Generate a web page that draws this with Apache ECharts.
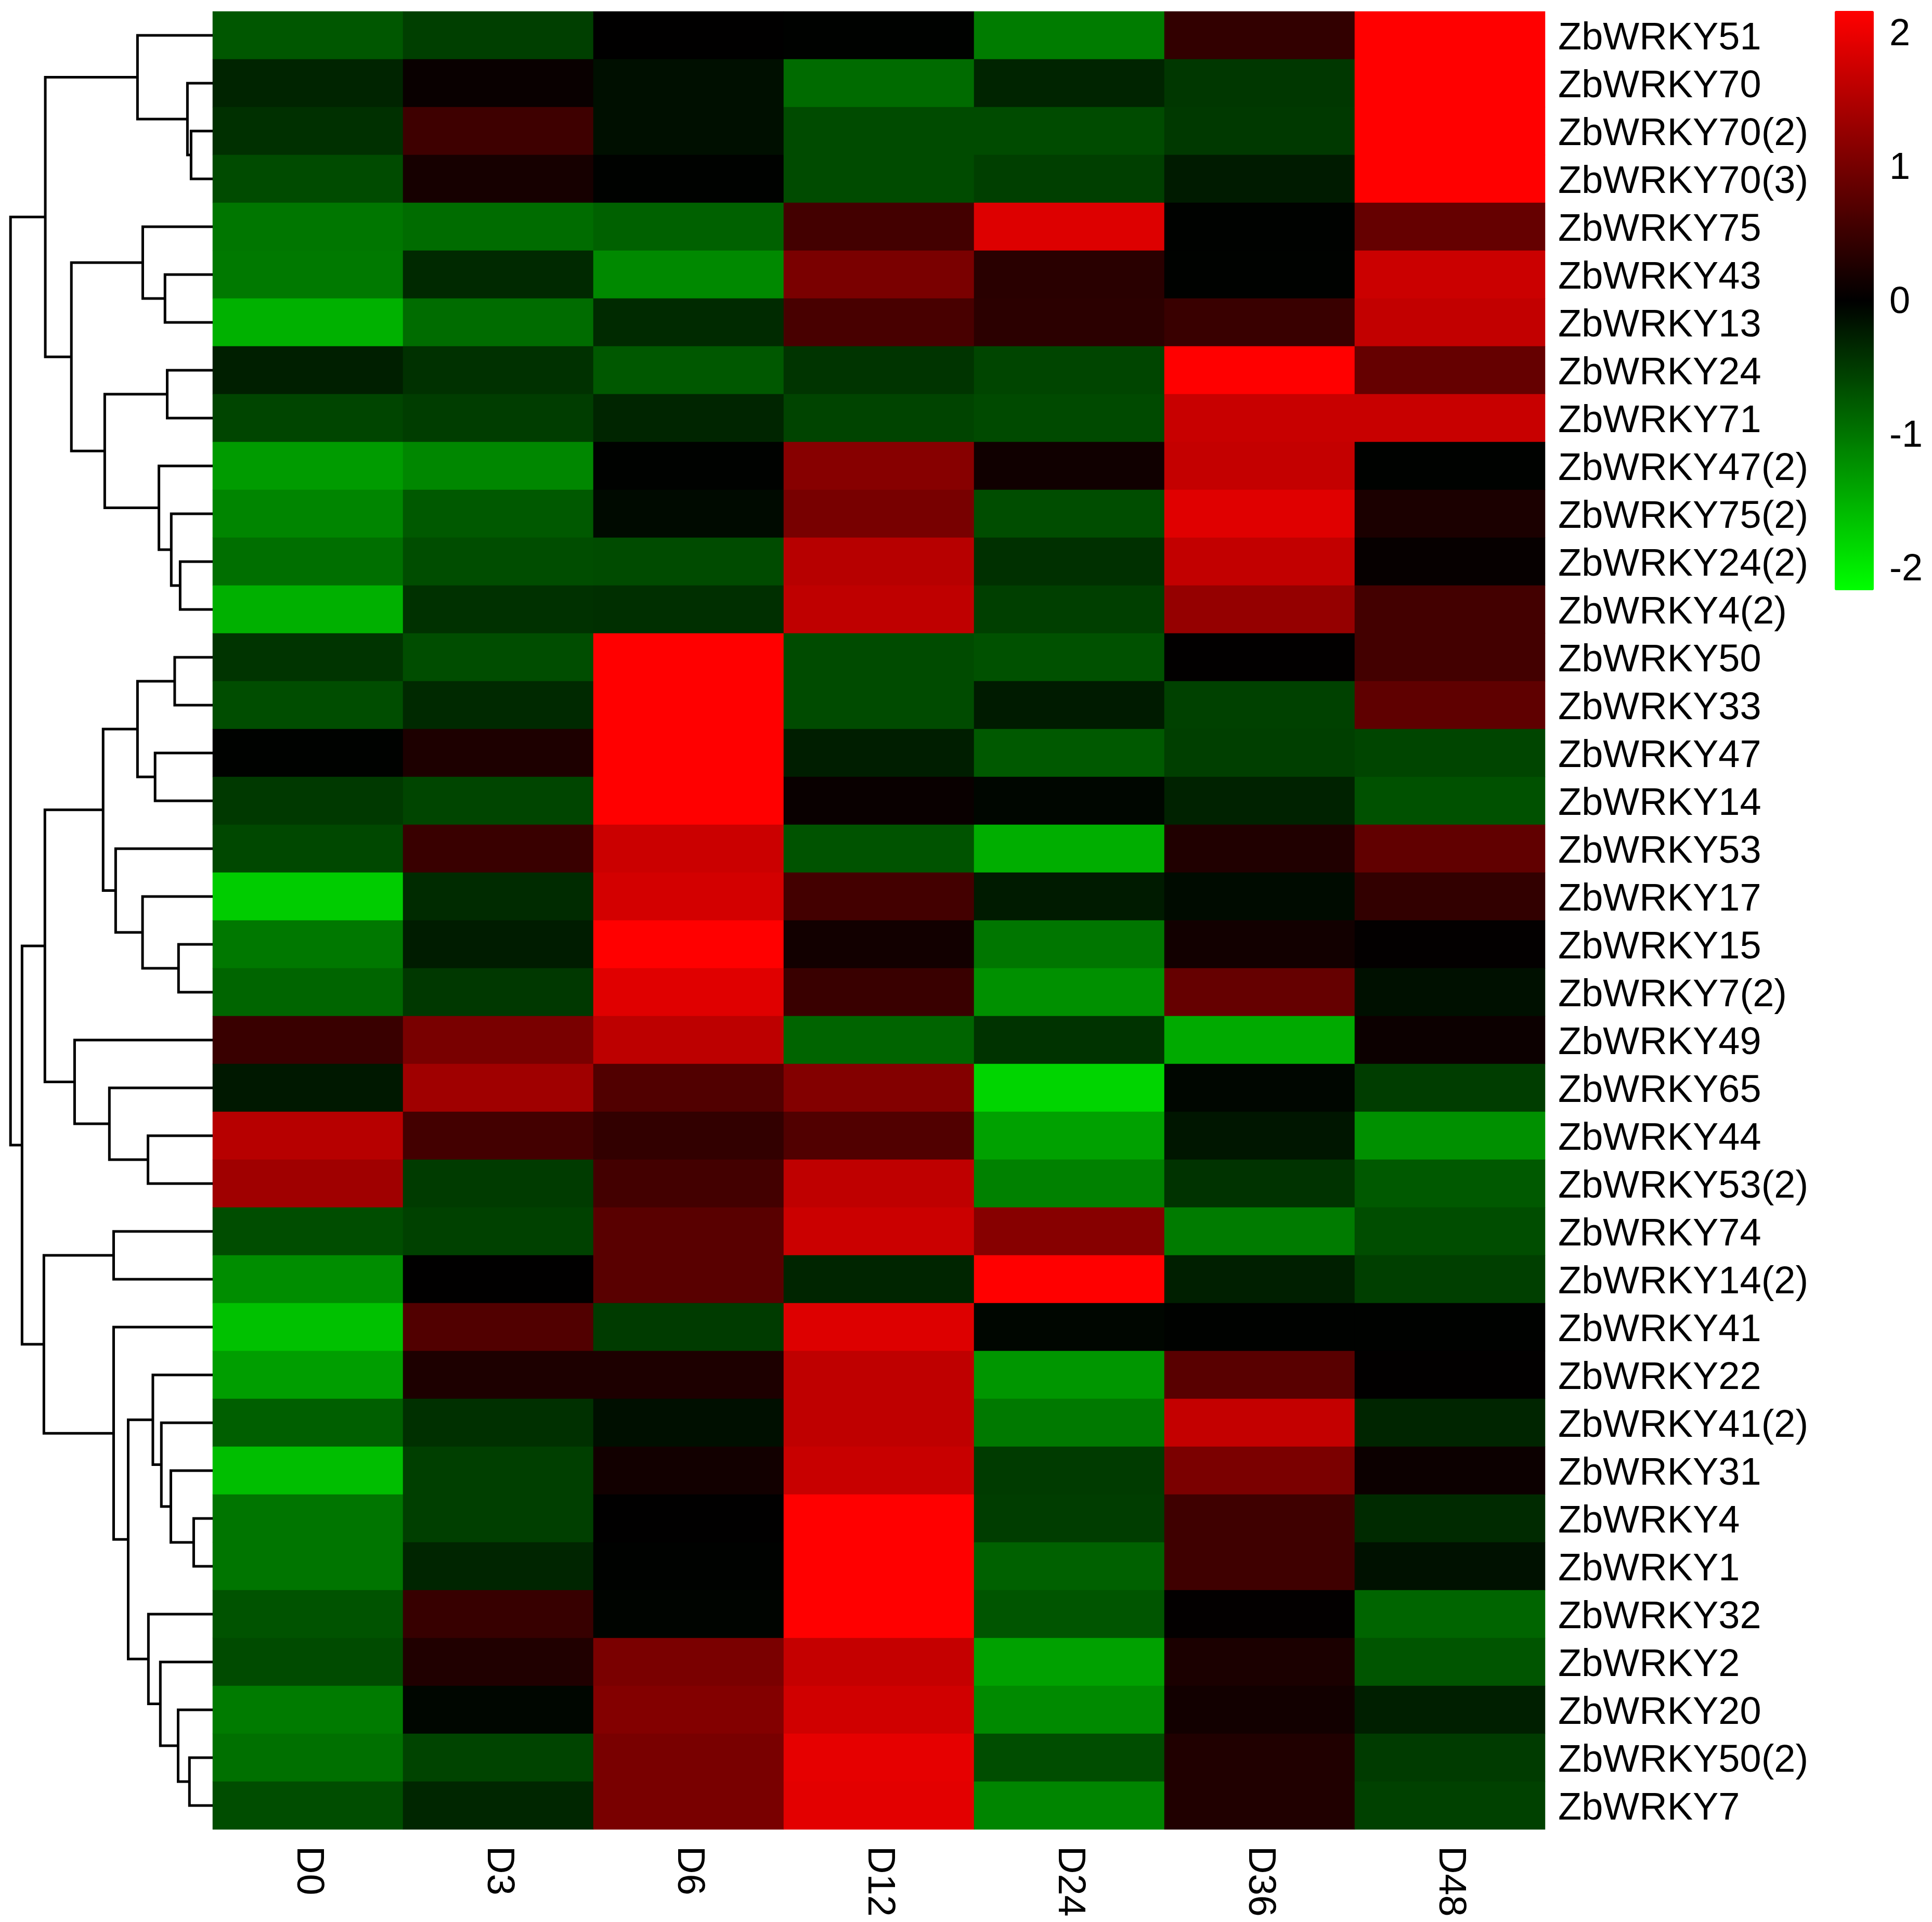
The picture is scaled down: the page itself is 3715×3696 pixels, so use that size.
<!DOCTYPE html>
<html>
<head>
<meta charset="utf-8">
<script src="https://cdn.jsdelivr.net/npm/echarts@6/dist/echarts.min.js"></script>
<style>
  html, body { margin: 0; padding: 0; background: #fff; }
  #chart { width: 3715px; height: 3696px; }
</style>
</head>
<body>
<div id="chart"></div>
<script>
// columns (time points)
const days = ["D0", "D3", "D6", "D12", "D24", "D36", "D48"];

// rows, in dendrogram order (top to bottom)
const genes = [
  "ZbWRKY51", "ZbWRKY70", "ZbWRKY70(2)", "ZbWRKY70(3)", "ZbWRKY75", "ZbWRKY43",
  "ZbWRKY13", "ZbWRKY24", "ZbWRKY71", "ZbWRKY47(2)", "ZbWRKY75(2)", "ZbWRKY24(2)",
  "ZbWRKY4(2)", "ZbWRKY50", "ZbWRKY33", "ZbWRKY47", "ZbWRKY14", "ZbWRKY53",
  "ZbWRKY17", "ZbWRKY15", "ZbWRKY7(2)", "ZbWRKY49", "ZbWRKY65", "ZbWRKY44",
  "ZbWRKY53(2)", "ZbWRKY74", "ZbWRKY14(2)", "ZbWRKY41", "ZbWRKY22", "ZbWRKY41(2)",
  "ZbWRKY31", "ZbWRKY4", "ZbWRKY1", "ZbWRKY32", "ZbWRKY2", "ZbWRKY20",
  "ZbWRKY50(2)", "ZbWRKY7"
];

// scaled expression, one array per column
const d0 = [-0.72, -0.29, -0.39, -0.62, -0.99, -1.01, -1.49, -0.25, -0.57, -1.30, -1.11, -0.93, -1.48,
  -0.43, -0.64, 0.00, -0.47, -0.60, -1.72, -1.00, -0.84, 0.50, -0.19, 1.57, 1.37, -0.64,
  -1.18, -1.62, -1.33, -0.79, -1.60, -0.98, -0.98, -0.69, -0.62, -1.03, -0.94, -0.64];
const d3 = [-0.52, 0.09, 0.54, 0.20, -0.90, -0.33, -0.90, -0.40, -0.50, -1.13, -0.74, -0.64, -0.40,
  -0.64, -0.33, 0.26, -0.57, 0.50, -0.35, -0.22, -0.46, 1.04, 1.37, 0.58, -0.49, -0.54,
  0.02, 0.70, 0.26, -0.39, -0.52, -0.52, -0.30, 0.48, 0.29, -0.04, -0.56, -0.31];
const d6 = [0.02, -0.11, -0.11, 0.00, -0.81, -1.15, -0.34, -0.73, -0.30, 0.00, -0.07, -0.62, -0.38,
  2.18, 2.18, 2.18, 2.18, 1.74, 1.81, 2.18, 1.92, 1.62, 0.70, 0.44, 0.58, 0.77,
  0.77, -0.49, 0.26, -0.11, 0.17, 0.02, 0.00, -0.02, 1.05, 1.13, 1.04, 1.04];
const d12 = [0.00, -0.89, -0.62, -0.62, 0.58, 1.05, 0.63, -0.43, -0.56, 1.16, 1.03, 1.57, 1.64,
  -0.62, -0.62, -0.24, 0.09, -0.69, 0.58, 0.17, 0.50, -0.83, 1.13, 0.70, 1.64, 1.74,
  -0.30, 1.89, 1.64, 1.64, 1.71, 2.18, 2.18, 2.18, 1.69, 1.78, 1.97, 1.94];
const d24 = [-1.04, -0.29, -0.62, -0.52, 1.89, 0.36, 0.38, -0.57, -0.61, 0.15, -0.64, -0.39, -0.52,
  -0.67, -0.21, -0.74, -0.04, -1.46, -0.21, -0.99, -1.21, -0.42, -1.79, -1.35, -1.08, 1.16,
  2.18, -0.04, -1.26, -1.01, -0.49, -0.50, -0.81, -0.71, -1.35, -1.16, -0.64, -1.11];
const d36 = [0.44, -0.45, -0.47, -0.21, 0.00, 0.00, 0.50, 2.18, 1.71, 1.68, 1.92, 1.66, 1.28,
  0.03, -0.54, -0.52, -0.27, 0.29, -0.08, 0.17, 0.87, -1.43, -0.04, -0.17, -0.42, -1.03,
  -0.25, 0.00, 0.77, 1.68, 1.06, 0.55, 0.55, 0.04, 0.24, 0.17, 0.29, 0.29];
const d48 = [2.18, 2.18, 2.18, 2.18, 0.87, 1.74, 1.66, 0.87, 1.71, 0.00, 0.24, 0.07, 0.58,
  0.58, 0.82, -0.57, -0.67, 0.84, 0.44, 0.04, -0.12, 0.12, -0.50, -1.21, -0.74, -0.64,
  -0.52, 0.00, 0.03, -0.30, 0.12, -0.34, -0.13, -0.84, -0.71, -0.25, -0.49, -0.54];

// colour scale
const colorMin = -2.15;
const colorMax = 2.18;
const legendTicks = [-2, -1, 0, 1, 2];

// row clustering, R hclust style: negative = leaf (1-based row), positive = earlier merge
const mergeA = [-3, -2, -1, -6, -5, -8, -12, -11, -10, 6, 5, 3, -14, -16, 13, -20, -19, -18, 15,
  -24, -23, -22, 19, -26, -32, -31, -30, -29, -37, -36, -35, -34, 28, -28, 24, 23, 12];
const mergeB = [-4, 1, 2, -7, 4, -9, -13, 7, 8, 9, 10, 11, -15, -17, 14, -21, 16, 17, 18,
  -25, 20, 21, 22, -27, -33, 25, 26, 27, -38, 29, 30, 31, 32, 33, 34, 35, 36];
const mergeHeight = [1.07, 1.25, 3.72, 2.36, 3.46, 2.25, 1.61, 2.05, 2.66, 5.34, 6.99, 8.28,
  1.88, 2.85, 3.72, 1.69, 3.47, 4.80, 5.42, 3.20, 5.11, 6.83, 8.30, 4.90,
  0.94, 2.07, 2.54, 2.96, 1.15, 1.71, 2.59, 3.18, 4.18, 4.90, 8.35, 9.43, 10.0];

const columns = [d0, d3, d6, d12, d24, d36, d48];
const heatData = [];
columns.forEach((col, c) => {
  col.forEach((v, r) => heatData.push([c, r, v]));
});

// dendrogram segments: [hA, yA, h, yB, hB]
const nodeY = [];
const nodeH = [];
const dendroData = [];
function childPos(id) {
  if (id < 0) return [0, -id - 1];
  return [nodeH[id - 1], nodeY[id - 1]];
}
for (let i = 0; i < mergeHeight.length; i++) {
  const a = childPos(mergeA[i]);
  const b = childPos(mergeB[i]);
  nodeH.push(mergeHeight[i]);
  nodeY.push((a[1] + b[1]) / 2);
  dendroData.push([a[0], a[1], mergeHeight[i], b[1], b[0]]);
}

const font = "'Liberation Sans', Arial, Helvetica, sans-serif";
const heatLeft = 409, heatTop = 22, heatWidth = 2562, heatHeight = 3496;
const barLeft = 3528, barTop = 21, barWidth = 75, barHeight = 1114;

let chartDom = document.getElementById("chart");
let myChart = echarts.init(chartDom, null, { renderer: "canvas" });

let options = {
  animation: false,
  backgroundColor: "#fff",
  grid: [
    { left: heatLeft, top: heatTop, width: heatWidth, height: heatHeight },
    { left: 0, top: heatTop, width: heatLeft, height: heatHeight },
    { left: barLeft, top: barTop, width: barWidth, height: barHeight },
  ],
  xAxis: [
    {
      type: "category",
      gridIndex: 0,
      data: days,
      axisLine: { show: false },
      axisTick: { show: false },
      splitLine: { show: false },
      axisLabel: {
        interval: 0,
        rotate: -90,
        margin: 32,
        fontSize: 74,
        fontFamily: font,
        color: "#000",
      },
    },
    {
      type: "value",
      gridIndex: 1,
      min: 0,
      max: 10.52,
      inverse: true,
      show: false,
    },
    { type: "value", gridIndex: 2, show: false, min: 0, max: 1 },
  ],
  yAxis: [
    {
      type: "category",
      gridIndex: 0,
      data: genes,
      inverse: true,
      position: "right",
      axisLine: { show: false },
      axisTick: { show: false },
      splitLine: { show: false },
      axisLabel: {
        interval: 0,
        margin: 25,
        formatter: (v) => "{g|" + v + "}",
        rich: {
          g: {
            fontSize: 74,
            fontFamily: font,
            color: "#000",
            padding: [14, 0, 0, 0],
          },
        },
      },
    },
    {
      type: "value",
      gridIndex: 1,
      min: -0.5,
      max: genes.length - 0.5,
      inverse: true,
      show: false,
    },
    {
      type: "value",
      gridIndex: 2,
      min: colorMin,
      max: colorMax,
      position: "right",
      axisLine: { show: false },
      axisTick: { show: false },
      splitLine: { show: false },
      axisLabel: {
        customValues: legendTicks,
        margin: 30,
        fontSize: 72,
        fontFamily: font,
        color: "#000",
      },
    },
  ],
  visualMap: {
    type: "continuous",
    min: colorMin,
    max: colorMax,
    seriesIndex: 0,
    calculable: false,
    orient: "vertical",
    left: barLeft,
    top: barTop,
    itemWidth: barWidth,
    itemHeight: barHeight,
    padding: 0,
    text: null,
    showLabel: false,
    inRange: { color: ["#00ff00", "#000000", "#ff0000"] },
  },
  series: [
    {
      type: "heatmap",
      xAxisIndex: 0,
      yAxisIndex: 0,
      data: heatData,
      itemStyle: { borderWidth: 0 },
      progressive: 0,
    },
    {
      type: "custom",
      xAxisIndex: 1,
      yAxisIndex: 1,
      data: dendroData,
      encode: { x: [0, 2, 4], y: [1, 3] },
      renderItem: function (params, api) {
        const pts = [
          api.coord([api.value(0), api.value(1)]),
          api.coord([api.value(2), api.value(1)]),
          api.coord([api.value(2), api.value(3)]),
          api.coord([api.value(4), api.value(3)]),
        ];
        return {
          type: "polyline",
          shape: { points: pts },
          style: { stroke: "#000", lineWidth: 5, fill: null, lineJoin: "miter" },
        };
      },
    },
  ],
};

myChart.setOption(options, true);
</script>
</body>
</html>
